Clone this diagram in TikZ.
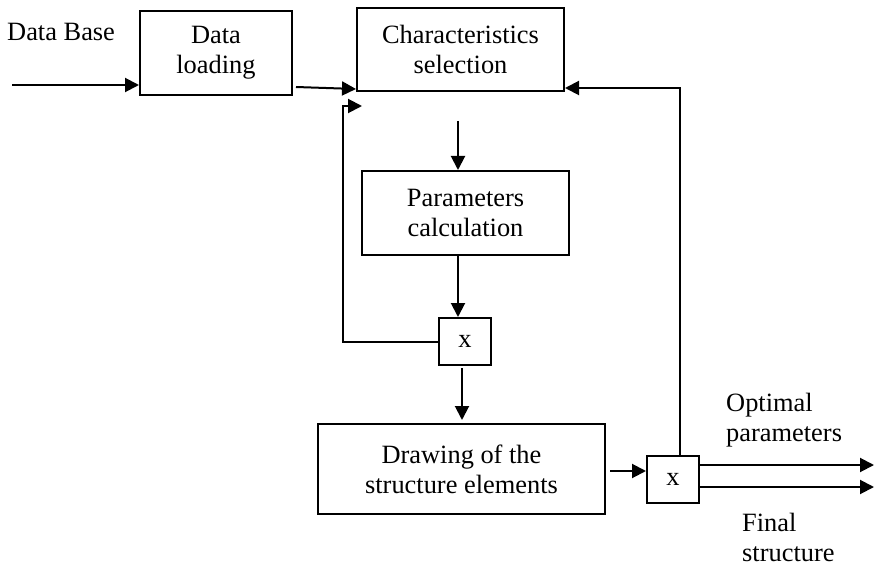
\documentclass[tikz,border=0pt]{standalone}
\usepackage{fontspec}
\setmainfont{Liberation Serif}
\usetikzlibrary{arrows.meta}
\begin{document}
\begin{tikzpicture}[x=1pt,y=-1pt,
  box/.style={draw,line width=2pt,inner sep=0pt,align=center,font=\fontsize{26.4}{30}\selectfont},
  lbl/.style={inner sep=0pt,align=left,font=\fontsize{26.4}{30}\selectfont},
  arr/.style={line width=2pt,-{Triangle[length=14pt,width=14pt]}}]
\useasboundingbox (0,0) rectangle (876,567);
\node[box,minimum width=152pt,minimum height=84pt] (dl) at (216,53) {Data\\loading};
\node[box,minimum width=207pt,minimum height=83pt] (cs) at (460.5,49.5) {Characteristics\\selection};
\node[box,minimum width=207pt,minimum height=84pt] (pc) at (465.5,213) {Parameters\\calculation};
\node[box,minimum width=52pt,minimum height=47pt] (x1) at (465,341.5) {x};
\node[box,minimum width=287pt,minimum height=90pt] (dr) at (461.5,469) {Drawing of the\\structure elements};
\node[box,minimum width=52pt,minimum height=47pt] (x2) at (673,479.5) {x};
\node[lbl,anchor=west] (db) at (7,32) {Data Base};
\node[lbl,anchor=west] (op) at (726,420) {Optimal\\parameters};
\node[lbl,anchor=west] (fs) at (742,537) {Final\\structure};
\coordinate (in) at (12,85);
\coordinate (fb1) at (343,341.5);
\coordinate (fb2) at (343,106);
\coordinate (fb3) at (362,106);
\coordinate (c1) at (458,121);
\coordinate (c2) at (458,300);
\coordinate (c3) at (462,368);
\coordinate (d1) at (610,471);
\coordinate (r1) at (680,88);
\coordinate (o1) at (874,465);
\coordinate (o2) at (874,487);
\draw[arr] (in) -- (in -| dl.west);
\draw[arr] ([shift={(3,-9)}]dl.south east) -- ([shift={(0,-3)}]cs.south west);
\draw[arr] (x1.west) -- (fb1) -- (fb2) -- (fb3);
\draw[arr] (c1) -- (c1 |- pc.north);
\draw[arr] (c2 |- pc.south) -- (c2 |- x1.north);
\draw[arr] (c3) -- ([yshift=3pt]c3 |- dr.north);
\draw[arr] (d1) -- (d1 -| x2.west);
\draw[arr] (r1 |- x2.north) -- (r1) -- (r1 -| cs.east);
\draw[arr] (o1 -| x2.east) -- (o1);
\draw[arr] (o2 -| x2.east) -- (o2);
\end{tikzpicture}
\end{document}
